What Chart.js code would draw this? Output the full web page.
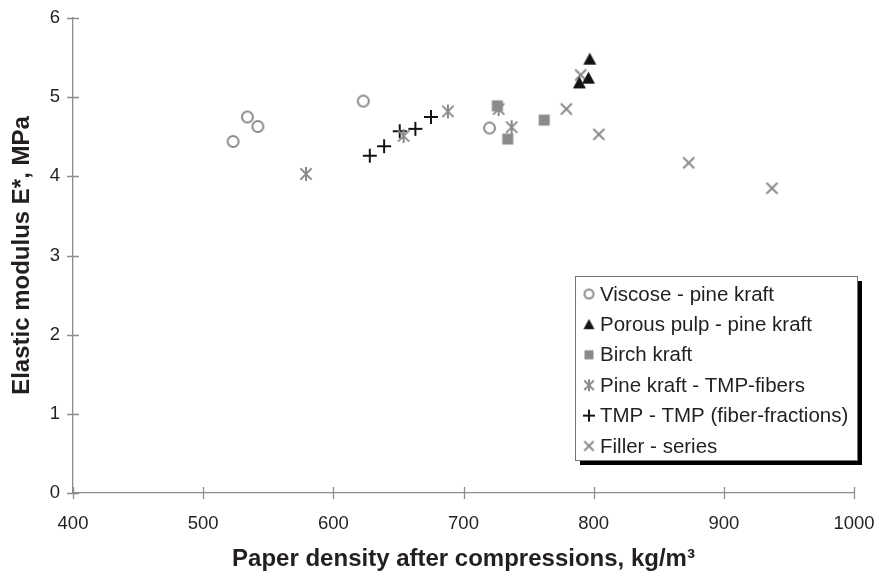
<!DOCTYPE html>
<html>
<head>
<meta charset="utf-8">
<script src="https://cdn.jsdelivr.net/npm/chart.js@4.4.1/dist/chart.umd.min.js"></script>
<style>
  html, body { margin: 0; padding: 0; background: #fff; }
  #wrap { width: 879px; height: 578px; position: relative; }
</style>
</head>
<body>
<div id="wrap"><canvas id="chart" width="879" height="578"></canvas></div>
<script>
//------------------------------- DATA -------------------------------
const seriesNames = ['Viscose - pine kraft', 'Porous pulp - pine kraft', 'Birch kraft',
    'Pine kraft - TMP-fibers', 'TMP - TMP (fiber-fractions)', 'Filler - series'];

const viscoseX = [523, 534, 542, 623, 720];
const viscoseY = [4.44, 4.75, 4.63, 4.95, 4.61];

const porousX = [797, 796, 789];
const porousY = [5.48, 5.24, 5.18];

const birchX = [726, 734, 762];
const birchY = [4.89, 4.47, 4.71];

const pineTmpX = [579, 654, 688, 727, 737];
const pineTmpY = [4.03, 4.51, 4.82, 4.85, 4.62];

const tmpX = [628, 639, 651, 663, 675];
const tmpY = [4.26, 4.38, 4.57, 4.60, 4.75];

const fillerX = [779, 804, 790, 873, 937];
const fillerY = [4.85, 4.53, 5.28, 4.17, 3.85];

const xTicks = [400, 500, 600, 700, 800, 900, 1000];
const yTicks = [0, 1, 2, 3, 4, 5, 6];

//------------------------------- MARKERS -------------------------------
const GRAY = '#8a8a8c';
const BLACK = '#141414';

function makeMarker(type, size, color) {
    const c = document.createElement('canvas');
    c.width = size + 4;
    c.height = size + 4;
    const g = c.getContext('2d');
    const m = (size + 4) / 2;
    const r = size / 2;
    g.strokeStyle = color;
    g.fillStyle = color;
    g.lineWidth = 2;
    g.lineCap = 'butt';
    g.beginPath();
    if (type === 'circle') {
        g.arc(m, m, r - 1, 0, Math.PI * 2);
        g.stroke();
    } else if (type === 'triangle') {
        g.moveTo(m, m - r);
        g.lineTo(m + r, m + r * 0.85);
        g.lineTo(m - r, m + r * 0.85);
        g.closePath();
        g.fill();
    } else if (type === 'square') {
        g.fillRect(m - r + 0.5, m - r + 0.5, size - 1, size - 1);
    } else if (type === 'asterisk') {
        const d = r * 0.8;
        g.moveTo(m, m - r); g.lineTo(m, m + r);
        g.moveTo(m - d, m - d); g.lineTo(m + d, m + d);
        g.moveTo(m + d, m - d); g.lineTo(m - d, m + d);
        g.stroke();
    } else if (type === 'plus') {
        g.moveTo(m, m - r); g.lineTo(m, m + r);
        g.moveTo(m - r, m); g.lineTo(m + r, m);
        g.stroke();
    } else if (type === 'cross') {
        const d = r * 0.85;
        g.moveTo(m - d, m - d); g.lineTo(m + d, m + d);
        g.moveTo(m + d, m - d); g.lineTo(m - d, m + d);
        g.stroke();
    }
    return c;
}

const markerTypes = ['circle', 'triangle', 'square', 'asterisk', 'plus', 'cross'];
const markerColors = [GRAY, BLACK, GRAY, GRAY, BLACK, GRAY];
const markerSizes = [13, 13, 12, 14, 14, 13];
const plotMarkers = markerTypes.map((t, i) => makeMarker(t, markerSizes[i], markerColors[i]));
const legendMarkers = markerTypes.map((t, i) => makeMarker(t, markerSizes[i] - 2, markerColors[i]));

function toPoints(xs, ys) {
    return xs.map((x, i) => ({ x: x, y: ys[i] }));
}

const allX = [viscoseX, porousX, birchX, pineTmpX, tmpX, fillerX];
const allY = [viscoseY, porousY, birchY, pineTmpY, tmpY, fillerY];

//------------------------------- PLUGINS -------------------------------
const FONT = '"Liberation Sans", Arial, sans-serif';
const TEXT = '#231f20';
const AXIS = '#8c8c8c';

// tick marks crossing both axes
const crossTicks = {
    id: 'crossTicks',
    afterDraw(chart) {
        const g = chart.ctx;
        const xs = chart.scales.x, ys = chart.scales.y;
        const a = chart.chartArea;
        g.save();
        g.strokeStyle = AXIS;
        g.lineWidth = 1.3;
        g.beginPath();
        xTicks.forEach(v => {
            const px = Math.round(xs.getPixelForValue(v)) + 0.5;
            g.moveTo(px, a.bottom - 6); g.lineTo(px, a.bottom + 6);
        });
        yTicks.forEach(v => {
            const py = Math.round(ys.getPixelForValue(v)) + 0.5;
            g.moveTo(a.left - 6, py); g.lineTo(a.left + 6, py);
        });
        g.stroke();
        g.restore();
    }
};

// boxed legend with drop shadow
const boxLegend = {
    id: 'boxLegend',
    afterDraw(chart) {
        const g = chart.ctx;
        const bx = 575, by = 276, bw = 282, bh = 184;
        g.save();
        g.fillStyle = '#000';
        g.fillRect(bx + 5, by + 5, bw, bh);
        g.fillStyle = '#fff';
        g.fillRect(bx, by, bw, bh);
        g.strokeStyle = '#777';
        g.lineWidth = 1;
        g.strokeRect(bx + 0.5, by + 0.5, bw, bh);
        g.font = '20.5px ' + FONT;
        g.textBaseline = 'middle';
        chart.data.datasets.forEach((ds, i) => {
            const cy = by + 18 + i * 30.4;
            const img = legendMarkers[i];
            g.drawImage(img, 589 - img.width / 2, cy - img.height / 2);
            g.fillStyle = TEXT;
            g.fillText(ds.label, 600, cy + 1);
        });
        g.restore();
    }
};

//------------------------------- CHART -------------------------------
const ctx = document.getElementById('chart').getContext('2d');
const chart = new Chart(ctx, {
    type: 'scatter',
    data: {
        datasets: seriesNames.map((name, i) => ({
            label: name,
            data: toPoints(allX[i], allY[i]),
            pointStyle: plotMarkers[i],
            pointRadius: 7,
            pointHoverRadius: 7
        }))
    },
    options: {
        responsive: false,
        animation: false,
        layout: { padding: 0 },
        plugins: {
            legend: { display: false },
            tooltip: { enabled: false }
        },
        scales: {
            x: {
                type: 'linear',
                min: 400,
                max: 1000,
                afterBuildTicks: (scale) => { scale.ticks = xTicks.map(v => ({ value: v })); },
                afterFit: (scale) => {
                    scale.height = 85;
                    scale.paddingLeft = 0;
                    scale.paddingRight = 25;
                },
                grid: { display: false, drawTicks: false },
                border: { color: AXIS, width: 1.3 },
                ticks: {
                    padding: 20,
                    color: TEXT,
                    font: { family: FONT, size: 18.5 },
                    maxRotation: 0,
                    callback: (v) => String(v)
                },
                title: {
                    display: true,
                    text: 'Paper density after compressions, kg/m\u00B3',
                    color: TEXT,
                    font: { family: FONT, size: 24, weight: 'bold' },
                    padding: { top: 8 }
                }
            },
            y: {
                type: 'linear',
                min: 0,
                max: 6,
                afterBuildTicks: (scale) => { scale.ticks = yTicks.map(v => ({ value: v })); },
                afterFit: (scale) => {
                    scale.width = 73;
                    scale.paddingTop = 18;
                    scale.paddingBottom = 0;
                },
                grid: { display: false, drawTicks: false },
                border: { color: AXIS, width: 1.3 },
                ticks: {
                    padding: 13,
                    color: TEXT,
                    font: { family: FONT, size: 18.5 },
                    callback: (v) => String(v)
                },
                title: {
                    display: true,
                    text: 'Elastic modulus E*, MPa',
                    color: TEXT,
                    font: { family: FONT, size: 24, weight: 'bold' },
                    padding: { top: 8, bottom: 0 }
                }
            }
        }
    },
    plugins: [crossTicks, boxLegend]
});
</script>
</body>
</html>
